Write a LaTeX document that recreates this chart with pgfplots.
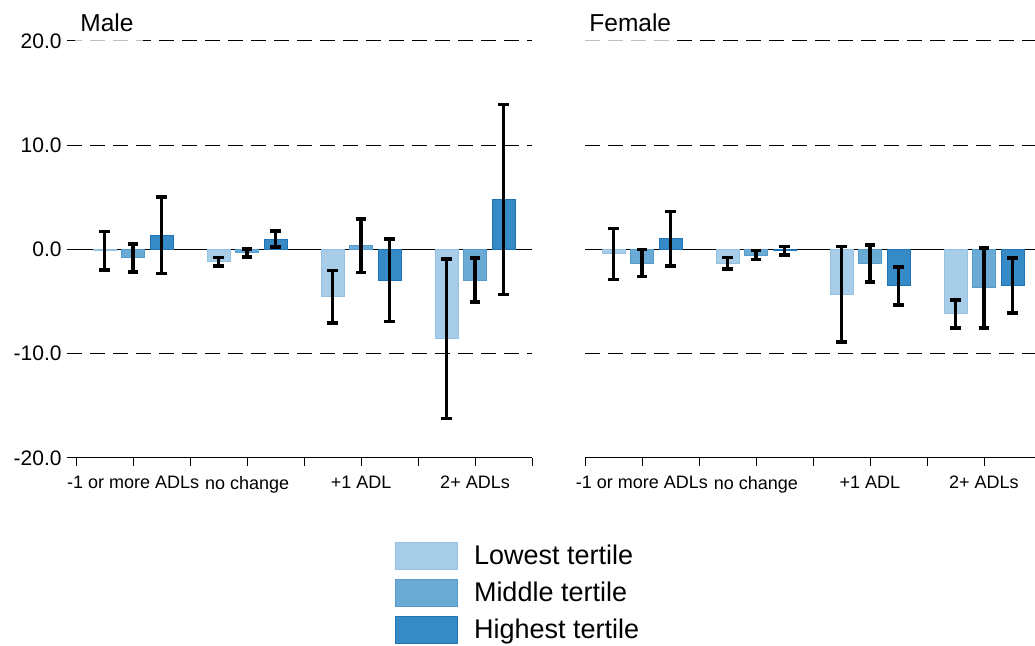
\documentclass[border=0pt]{standalone}
\usepackage{pgfplots}
\pgfplotsset{compat=1.18}
\usepackage{fontspec}
\setmainfont{Liberation Sans}
\definecolor{lowF}{RGB}{168,205,232}
\definecolor{lowD}{RGB}{148,193,226}
\definecolor{midF}{RGB}{108,170,214}
\definecolor{midD}{RGB}{86,155,206}
\definecolor{highF}{RGB}{54,138,198}
\definecolor{highD}{RGB}{30,116,182}
\pgfplotsset{
  panel/.style={
    scale only axis, anchor=south west, height=208.5pt,
    ymin=-20, ymax=20, clip=false,
    axis x line*=bottom, axis y line*=left,
    y axis line style={draw=none},
    x axis line style={line width=0.5pt},
    tick align=inside,
    major tick length=4pt,
    every tick/.style={black, line width=0.5pt},
    xtick={0.5,1.5,2.5,3.5,4.5}, xticklabels={},
    extra x ticks={1,2,3,4},
    extra x tick labels={-1 or more ADLs,no change,+1 ADL,2+ ADLs},
    extra x tick style={tick align=outside},
    xticklabel style={font=\fontsize{9}{10}\selectfont, inner sep=0pt, yshift=-5pt},
    ymajorgrids,
    major grid style={dash pattern=on 7.5pt off 4pt, line width=0.5pt, black},
    ytick={-20,-10,10,20},
    extra y ticks={0},
    extra y tick style={major grid style={solid, black, line width=0.5pt}},
    ybar, bar width=11.5pt,
    legend image code/.code={\draw[##1, line width=0.5pt] (0pt,-6.5pt) rectangle (31pt,7pt);},
    error bars/y dir=both, error bars/y explicit,
    error bars/error bar style={line width=1.8pt, black, solid},
    error bars/error mark options={rotate=90, line width=1.8pt, mark size=2.6pt, black, solid},
    every axis title shift=0pt,
    title style={inner sep=0pt, anchor=base west, font=\fontsize{12.25}{14}\selectfont},
  },
  low/.style={fill=lowF, draw=lowD, line width=0.5pt, bar shift=0pt},
  mid/.style={fill=midF, draw=midD, line width=0.5pt, bar shift=0pt},
  high/.style={fill=highF, draw=highD, line width=0.5pt, bar shift=0pt},
}
\begin{document}
\begin{tikzpicture}
\begin{axis}[panel, at={(33.5pt,94pt)}, width=232.5pt, xmin=0.42, xmax=4.5,
  title={Male}, title style={at={(0.028,1.0216)}},
  yticklabels={-20.0,-10.0,10.0,20.0}, extra y tick labels={0.0},
  yticklabel style={font=\fontsize{10.5}{12}\selectfont, inner sep=0pt, xshift=-2.5pt},
  legend style={at={(0.7054,-0.200)}, anchor=north west, draw=none, fill=none,
    inner sep=0pt, outer sep=0pt, row sep=3.2pt, column sep=6pt,
    font=\fontsize{13.5}{16}\selectfont},
  legend cell align=left,
]
\addplot[low] coordinates {(0.75,-0.1) +- (0,1.84) (1.75,-1.18) +- (0,0.42) (2.75,-4.54) +- (0,2.51) (3.75,-8.56) +- (0,7.67)};
\addplot[mid] coordinates {(1,-0.8) +- (0,1.35) (2,-0.33) +- (0,0.4) (3,0.35) +- (0,2.55) (4,-2.94) +- (0,2.1)};
\addplot[high] coordinates {(1.25,1.37) +- (0,3.69) (2.25,0.99) +- (0,0.77) (3.25,-2.94) +- (0,3.95) (4.25,4.8) +- (0,9.1)};
\legend{Lowest tertile,Middle tertile,Highest tertile}
\fill[white, fill opacity=0.75] (axis cs:0.49,19.7) rectangle (axis cs:1.09,20.3);
\end{axis}
\begin{axis}[panel, at={(292.5pt,94pt)}, width=228pt, xmin=0.5, xmax=4.5,
  title={Female}, title style={at={(0.0088,1.0216)}},
  yticklabels={}, extra y tick labels={}, ytick style={draw=none},
]
\addplot[low] coordinates {(0.75,-0.42) +- (0,2.45) (1.75,-1.3) +- (0,0.55) (2.75,-4.3) +- (0,4.58) (3.75,-6.17) +- (0,1.35)};
\addplot[mid] coordinates {(1,-1.3) +- (0,1.3) (2,-0.53) +- (0,0.42) (3,-1.35) +- (0,1.78) (4,-3.68) +- (0,3.85)};
\addplot[high] coordinates {(1.25,1.04) +- (0,2.62) (2.25,-0.12) +- (0,0.4) (3.25,-3.48) +- (0,1.82) (4.25,-3.44) +- (0,2.65)};
\fill[white, fill opacity=0.75] (axis cs:0.5,19.7) rectangle (axis cs:1.29,20.3);
\end{axis}
\pgfresetboundingbox
\useasboundingbox (0,0) rectangle (517.5pt,323pt);
\end{tikzpicture}
\end{document}
